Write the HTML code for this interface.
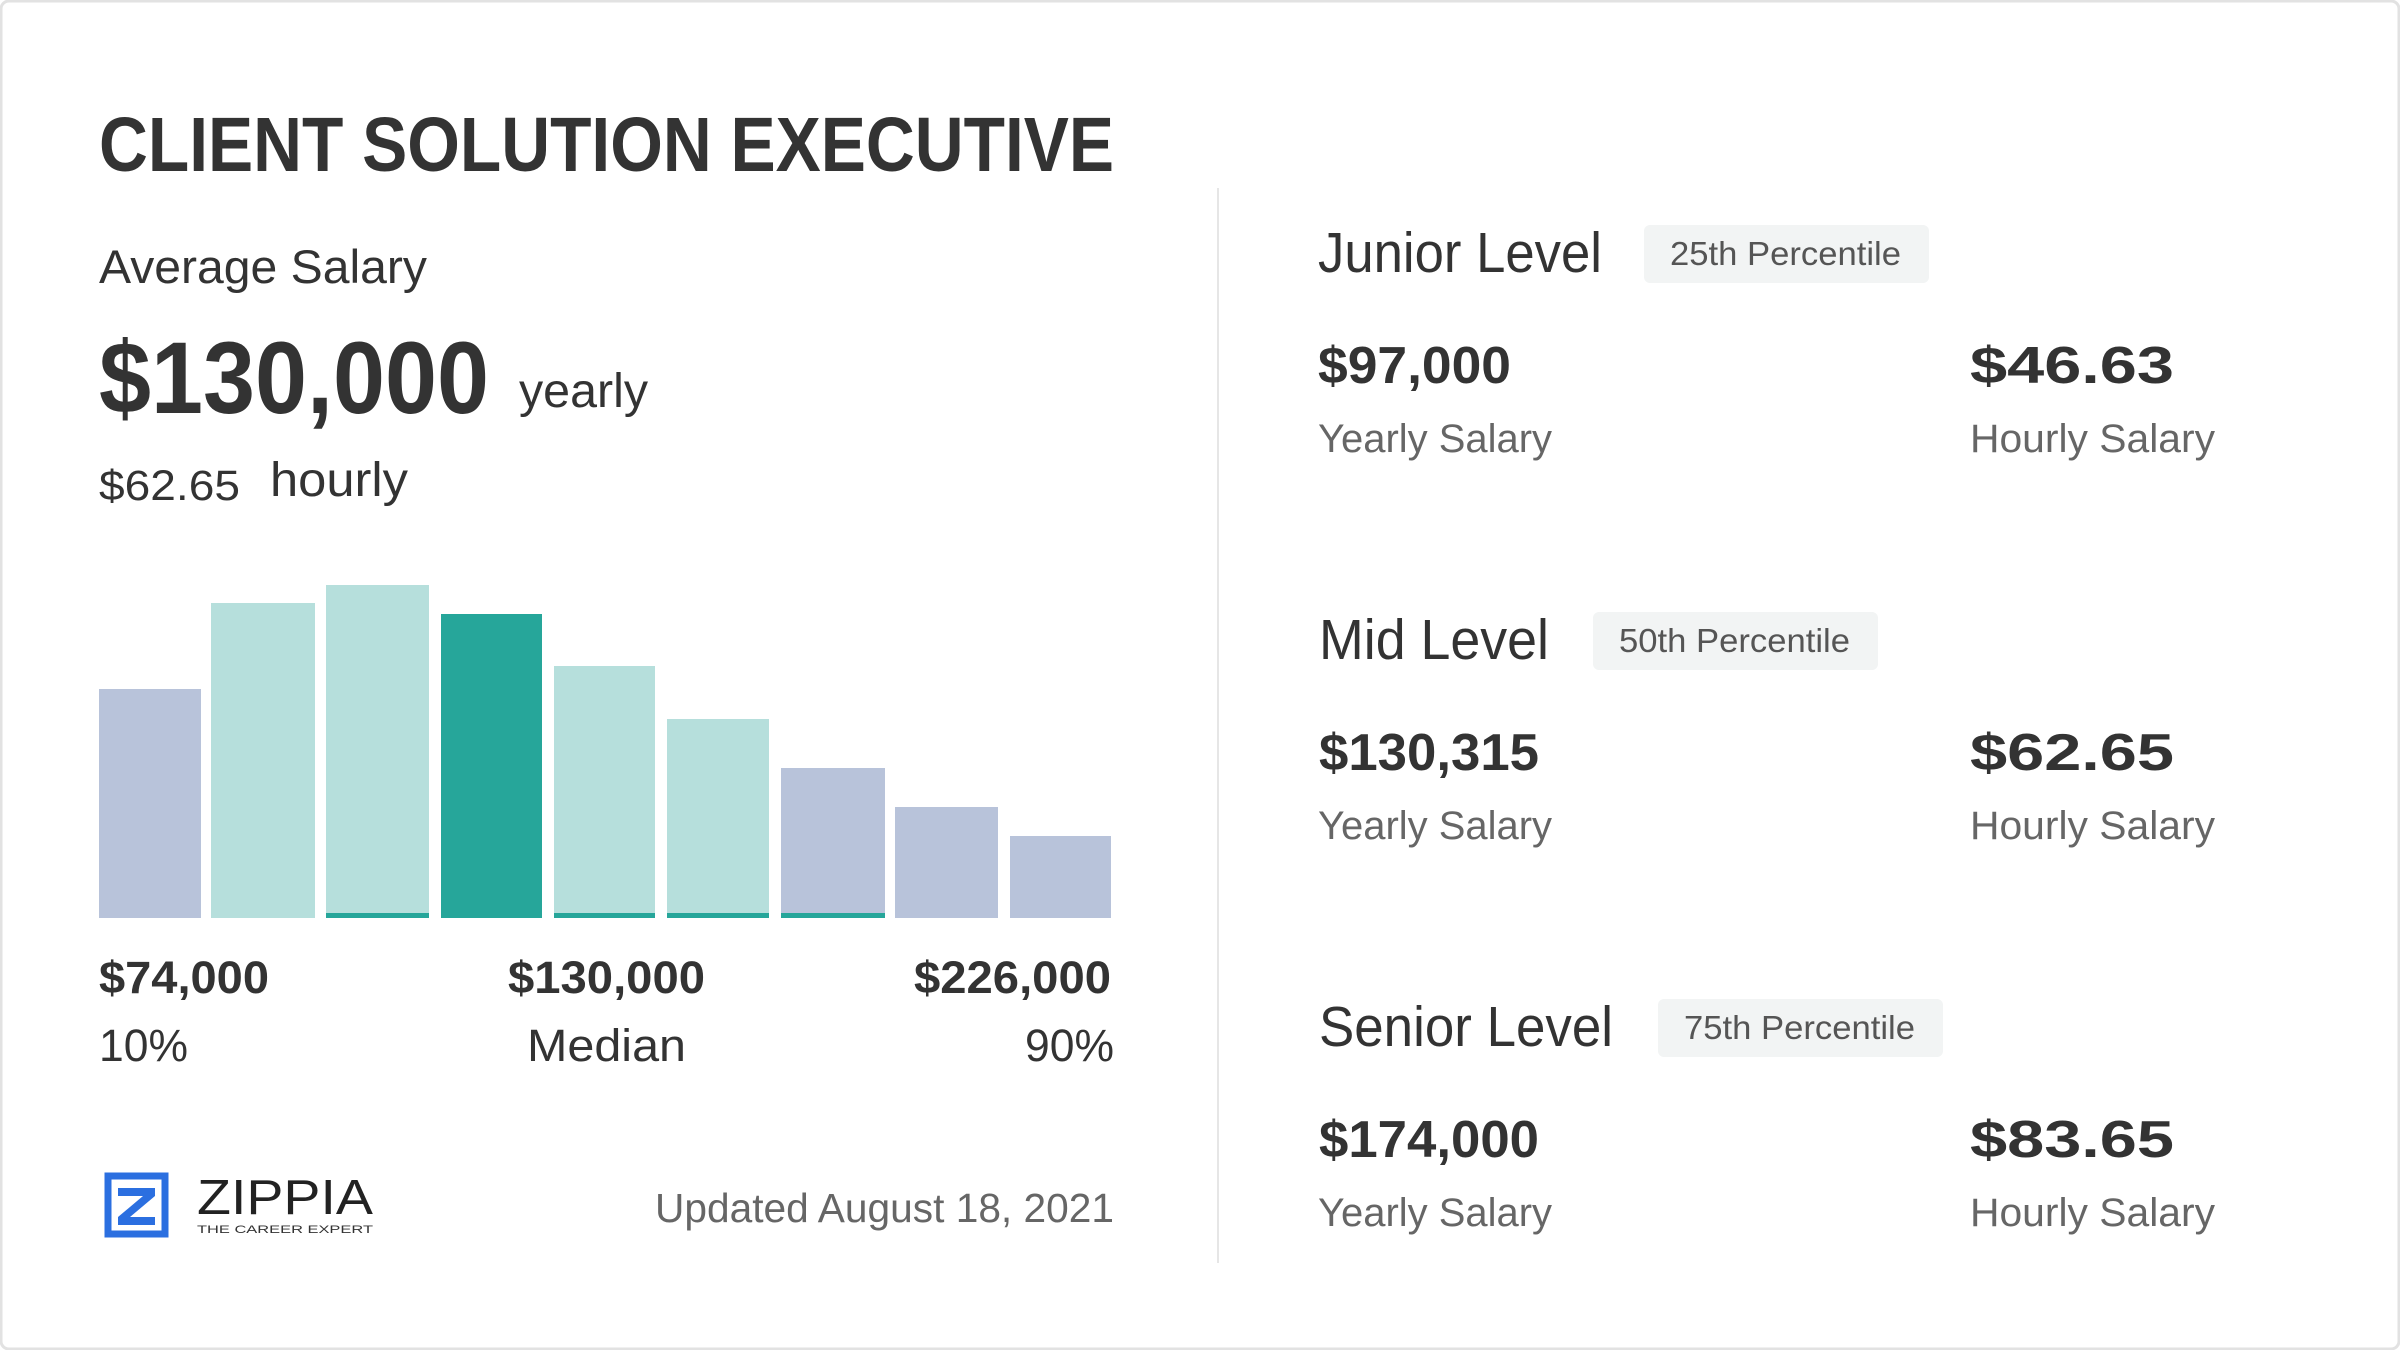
<!DOCTYPE html>
<html><head><meta charset="utf-8"><style>html,body{margin:0;padding:0;background:#fff;}svg{display:block;}</style></head><body>
<svg width="2400" height="1350" viewBox="0 0 2400 1350" xmlns="http://www.w3.org/2000/svg" font-family="'Liberation Sans', sans-serif">
<rect x="1" y="1" width="2398" height="1348" rx="8" fill="#fff" stroke="#e2e2e2" stroke-width="3"/>
<text x="99" y="171" font-size="77" font-weight="bold" fill="#333" textLength="1015" lengthAdjust="spacingAndGlyphs">CLIENT SOLUTION EXECUTIVE</text>
<text x="99" y="283" font-size="47" fill="#333" textLength="328" lengthAdjust="spacingAndGlyphs">Average Salary</text>
<text x="99" y="413" font-size="102" font-weight="bold" fill="#333" textLength="390" lengthAdjust="spacingAndGlyphs">$130,000</text>
<text x="519" y="407" font-size="48" fill="#333" textLength="129" lengthAdjust="spacingAndGlyphs">yearly</text>
<text x="99" y="500" font-size="43" fill="#333" textLength="141" lengthAdjust="spacingAndGlyphs">$62.65</text>
<text x="270" y="496" font-size="48" fill="#333" textLength="138" lengthAdjust="spacingAndGlyphs">hourly</text>
<g>
<rect x="99" y="689" width="102" height="229" fill="#b8c3da"/>
<rect x="211" y="603" width="104" height="315" fill="#b6dfdc"/>
<rect x="326" y="585" width="103" height="333" fill="#b6dfdc"/>
<rect x="441" y="614" width="101" height="304" fill="#26a69a"/>
<rect x="554" y="666" width="101" height="252" fill="#b6dfdc"/>
<rect x="667" y="719" width="102" height="199" fill="#b6dfdc"/>
<rect x="781" y="768" width="104" height="150" fill="#b8c3da"/>
<rect x="895" y="807" width="103" height="111" fill="#b8c3da"/>
<rect x="1010" y="836" width="101" height="82" fill="#b8c3da"/>
<rect x="326" y="913" width="103" height="5" fill="#26a69a"/>
<rect x="554" y="913" width="101" height="5" fill="#26a69a"/>
<rect x="667" y="913" width="102" height="5" fill="#26a69a"/>
<rect x="781" y="913" width="104" height="5" fill="#26a69a"/>
</g>
<text x="99" y="993" font-size="45" font-weight="bold" fill="#333" textLength="170" lengthAdjust="spacingAndGlyphs">$74,000</text>
<text x="508" y="993" font-size="45" font-weight="bold" fill="#333" textLength="197" lengthAdjust="spacingAndGlyphs">$130,000</text>
<text x="914" y="993" font-size="45" font-weight="bold" fill="#333" textLength="197" lengthAdjust="spacingAndGlyphs">$226,000</text>
<text x="99" y="1061" font-size="45" fill="#333" textLength="89" lengthAdjust="spacingAndGlyphs">10%</text>
<text x="527" y="1061" font-size="45" fill="#333" textLength="159" lengthAdjust="spacingAndGlyphs">Median</text>
<text x="1025" y="1061" font-size="45" fill="#333" textLength="89" lengthAdjust="spacingAndGlyphs">90%</text>
<g fill="none" stroke="#2b6fe0" stroke-width="7">
<path d="M108 1176 H165 V1234 H108 Z"/>
</g>
<path d="M118 1188 H155 V1196 L130 1217 H155 V1225 H118 V1217 L143 1196 H118 Z" fill="#2b6fe0"/>
<text x="197" y="1214" font-size="49" fill="#222" textLength="176" lengthAdjust="spacingAndGlyphs">ZIPPIA</text>
<text x="197" y="1233" font-size="11" fill="#333" textLength="176" lengthAdjust="spacingAndGlyphs">THE CAREER EXPERT</text>
<text x="655" y="1222" font-size="41" fill="#666" textLength="459" lengthAdjust="spacingAndGlyphs">Updated August 18, 2021</text>
<rect x="1217" y="188" width="2" height="1075" fill="#e6e6e6"/>
<g transform="translate(0,0)">
<text x="1318" y="272" font-size="57" fill="#333" textLength="284" lengthAdjust="spacingAndGlyphs">Junior Level</text>
<rect x="1644" y="225" width="285" height="58" rx="6" fill="#f2f4f4"/>
<text x="1670" y="265" font-size="33" fill="#555" textLength="231" lengthAdjust="spacingAndGlyphs">25th Percentile</text>
<text x="1318" y="383" font-size="52" font-weight="bold" fill="#333" textLength="193" lengthAdjust="spacingAndGlyphs">$97,000</text>
<text x="1970" y="383" font-size="52" font-weight="bold" fill="#333" textLength="204" lengthAdjust="spacingAndGlyphs">$46.63</text>
<text x="1318" y="452" font-size="40" fill="#666" textLength="234" lengthAdjust="spacingAndGlyphs">Yearly Salary</text>
<text x="1970" y="452" font-size="40" fill="#666" textLength="245" lengthAdjust="spacingAndGlyphs">Hourly Salary</text>
</g>
<g transform="translate(0,387)">
<text x="1319" y="272" font-size="57" fill="#333" textLength="230" lengthAdjust="spacingAndGlyphs">Mid Level</text>
<rect x="1593" y="225" width="285" height="58" rx="6" fill="#f2f4f4"/>
<text x="1619" y="265" font-size="33" fill="#555" textLength="231" lengthAdjust="spacingAndGlyphs">50th Percentile</text>
<text x="1319" y="383" font-size="52" font-weight="bold" fill="#333" textLength="220" lengthAdjust="spacingAndGlyphs">$130,315</text>
<text x="1970" y="383" font-size="52" font-weight="bold" fill="#333" textLength="204" lengthAdjust="spacingAndGlyphs">$62.65</text>
<text x="1318" y="452" font-size="40" fill="#666" textLength="234" lengthAdjust="spacingAndGlyphs">Yearly Salary</text>
<text x="1970" y="452" font-size="40" fill="#666" textLength="245" lengthAdjust="spacingAndGlyphs">Hourly Salary</text>
</g>
<g transform="translate(0,774)">
<text x="1319" y="272" font-size="57" fill="#333" textLength="294" lengthAdjust="spacingAndGlyphs">Senior Level</text>
<rect x="1658" y="225" width="285" height="58" rx="6" fill="#f2f4f4"/>
<text x="1684" y="265" font-size="33" fill="#555" textLength="231" lengthAdjust="spacingAndGlyphs">75th Percentile</text>
<text x="1319" y="383" font-size="52" font-weight="bold" fill="#333" textLength="220" lengthAdjust="spacingAndGlyphs">$174,000</text>
<text x="1970" y="383" font-size="52" font-weight="bold" fill="#333" textLength="204" lengthAdjust="spacingAndGlyphs">$83.65</text>
<text x="1318" y="452" font-size="40" fill="#666" textLength="234" lengthAdjust="spacingAndGlyphs">Yearly Salary</text>
<text x="1970" y="452" font-size="40" fill="#666" textLength="245" lengthAdjust="spacingAndGlyphs">Hourly Salary</text>
</g>
</svg>
</body></html>
